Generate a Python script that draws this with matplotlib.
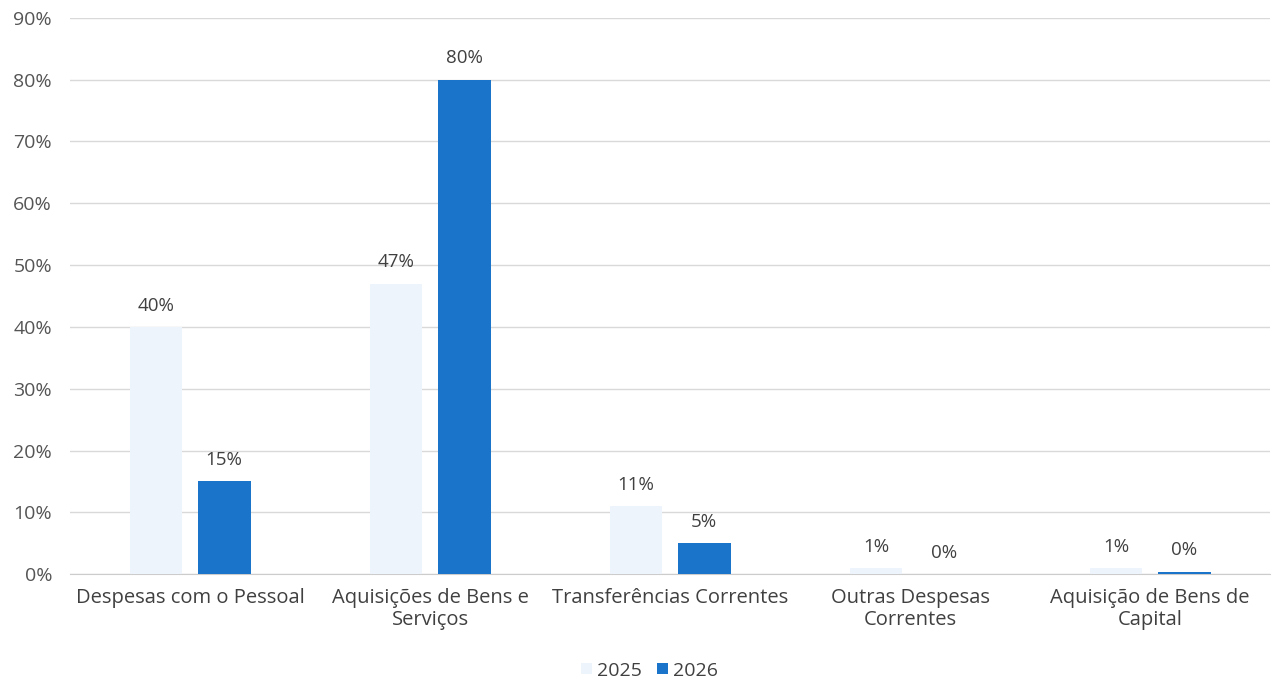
import matplotlib
matplotlib.use("Agg")
import matplotlib.pyplot as plt
import numpy as np

categories = ["Despesas com o Pessoal", "Aquisições de Bens e\nServiços",
              "Transferências Correntes", "Outras Despesas\nCorrentes",
              "Aquisição de Bens de\nCapital"]
values_2025 = [40, 47, 11, 1, 1]
values_2026 = [15, 80, 5, 0, 0.4]
labels_2025 = ["40%", "47%", "11%", "1%", "1%"]
labels_2026 = ["15%", "80%", "5%", "0%", "0%"]
yticks = list(range(0, 100, 10))

plt.rcParams['font.family'] = ['Open Sans', 'DejaVu Sans']

fig = plt.figure(figsize=(12.74, 6.82), dpi=100)
ax = fig.add_axes([0.055, 0.158, 0.942, 0.816])

x = np.arange(len(categories))
w = 0.22
off = 0.142
c25 = "#eef4fb"
c26 = "#1a74c9"
b1 = ax.bar(x - off, values_2025, w, color=c25, label="2025", zorder=3)
b2 = ax.bar(x + off, values_2026, w, color=c26, label="2026", zorder=3)

for rect, lab in zip(b1, labels_2025):
    ax.text(rect.get_x() + rect.get_width() / 2, rect.get_height() + 2.0, lab,
            ha="center", va="bottom", fontsize=13.5, color="#404040")
for rect, lab in zip(b2, labels_2026):
    ax.text(rect.get_x() + rect.get_width() / 2, rect.get_height() + 2.0, lab,
            ha="center", va="bottom", fontsize=13.5, color="#404040")

ax.set_ylim(0, 90)
ax.set_xlim(-0.5, len(categories) - 0.5)
ax.set_yticks(yticks)
ax.set_yticklabels([f"{t}%" for t in yticks], fontsize=14, color="#555555")
ax.set_xticks(x)
ax.set_xticklabels(categories, fontsize=14.5, color="#404040", linespacing=1.15)
ax.tick_params(axis="both", length=0)
ax.tick_params(axis="y", pad=13)
ax.tick_params(axis="x", pad=10)
ax.grid(axis="y", color="#d9d9d9", linewidth=1, zorder=0)
for s in ["top", "right", "left"]:
    ax.spines[s].set_visible(False)
ax.spines["bottom"].set_color("#cccccc")

leg = fig.legend(handles=[b1, b2], labels=["2025", "2026"], loc="lower center",
                 bbox_to_anchor=(0.51, -0.022), ncol=2, frameon=False, fontsize=14,
                 handlelength=0.55, handleheight=0.55, handletextpad=0.25,
                 columnspacing=0.8)
for t in leg.get_texts():
    t.set_color("#404040")

fig.savefig("out.png", dpi=100)
